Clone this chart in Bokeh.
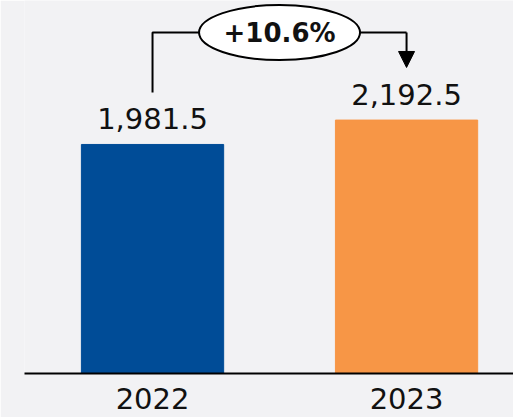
from bokeh.plotting import figure
from bokeh.models import Range1d, FixedTicker, Arrow, NormalHead, ColumnDataSource, LabelSet
from bokeh.core.properties import value
from bokeh.embed import file_html
from bokeh.resources import INLINE

# ---- data ----
years = ["2022", "2023"]
revenue = [1981.5, 2192.5]
bar_colors = ["#004C97", "#F79646"]
change_label = "+10.6%"
value_labels = ["1,981.5", "2,192.5"]

xs = list(range(len(years)))
BG = "#F2F2F4"

p = figure(width=513, height=417, output_backend="svg", toolbar_location=None,
           x_range=Range1d(-0.504, 1.421), y_range=Range1d(0, 3227),
           y_axis_location=None, min_border_left=24, min_border_right=0,
           min_border_top=0, min_border_bottom=44,
           background_fill_color=BG, border_fill_color=BG,
           outline_line_color=None)
p.grid.visible = False

src = ColumnDataSource(dict(x=xs, top=revenue, color=bar_colors, label=value_labels))
p.vbar(x="x", top="top", bottom=0, width=0.56, color="color", source=src)

p.add_layout(LabelSet(x="x", y="top", text="label", source=src, y_offset=15,
                      text_align="center", text_baseline="alphabetic",
                      text_font=value("DejaVu Sans"), text_font_size=value("29px"),
                      text_color="#111111"))

# bracket annotation
bracket_y = 2950
start_y = revenue[0] + 450
tip_y = revenue[1] + 455
p.line(x=[xs[0], xs[0], xs[1]], y=[start_y, bracket_y, bracket_y],
       line_color="black", line_width=2)
p.add_layout(Arrow(x_start=xs[1], y_start=bracket_y, x_end=xs[1], y_end=tip_y,
                   line_color="black", line_width=2,
                   end=NormalHead(size=16, fill_color="black", line_color="black")))
mid = (xs[0] + xs[1]) / 2
p.ellipse(x=[mid], y=[bracket_y], width=161, height=55, width_units="screen",
          height_units="screen", fill_color="white", line_color="black", line_width=2)
p.text(x=[mid], y=[bracket_y], text=[change_label], text_align="center",
       text_baseline="middle", text_font=value("DejaVu Sans"), text_font_style="bold",
       text_font_size="26px", text_color="#111111")

ax = p.xaxis[0]
ax.ticker = FixedTicker(ticks=xs)
ax.major_label_overrides = {i: y for i, y in zip(xs, years)}
ax.axis_line_color = "black"
ax.axis_line_width = 2
ax.major_tick_line_color = None
ax.minor_tick_line_color = None
ax.major_label_standoff = 8
ax.major_label_text_font = "DejaVu Sans"
ax.major_label_text_font_size = "29px"
ax.major_label_text_color = "#111111"

open("out.html", "w").write(file_html(p, INLINE))
